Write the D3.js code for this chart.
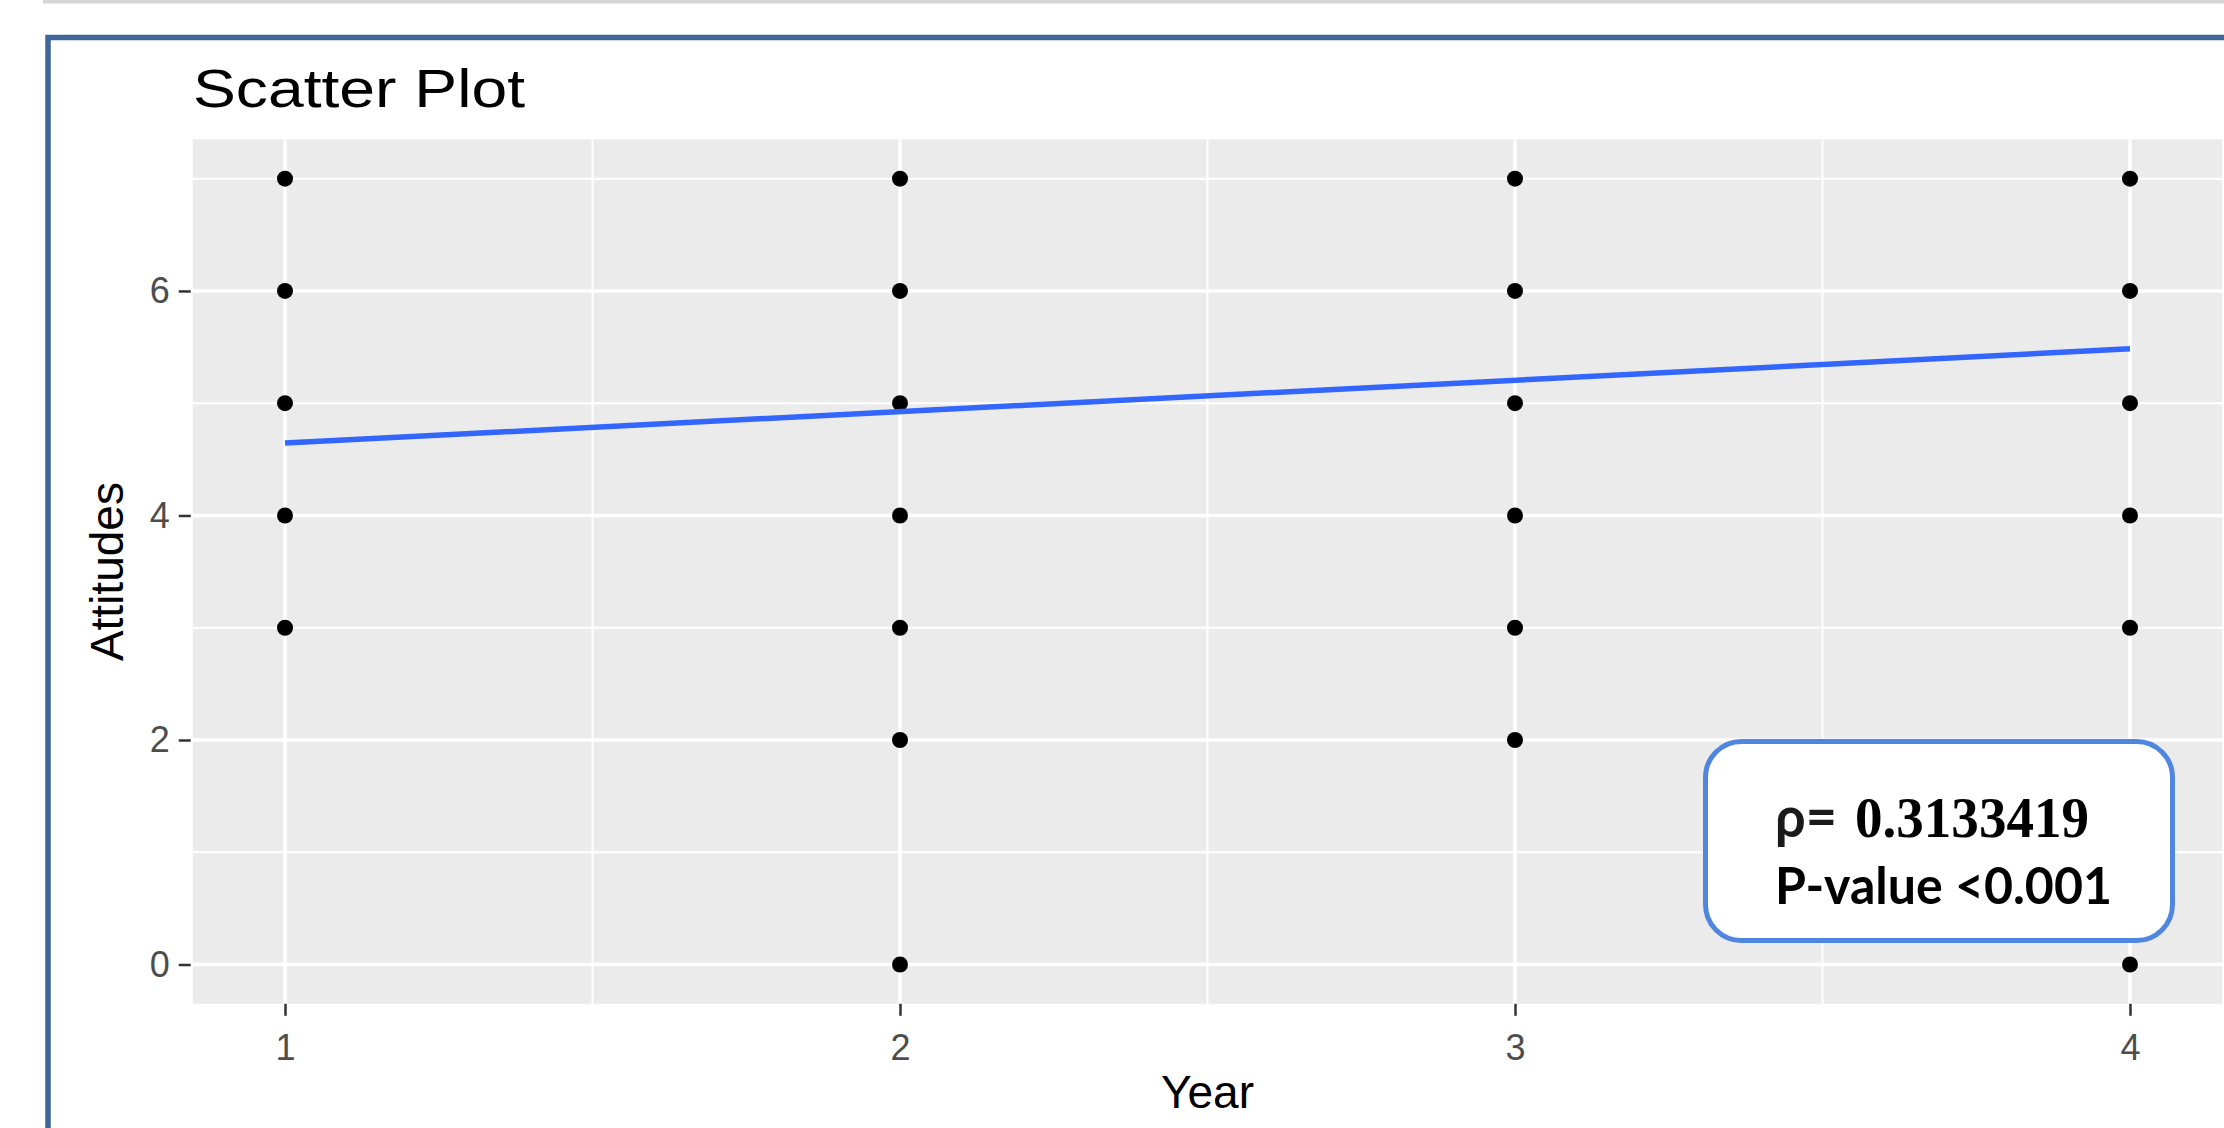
<!DOCTYPE html>
<html>
<head>
<meta charset="utf-8">
<script src="https://cdn.jsdelivr.net/npm/d3@7"></script>
<style>
  html, body { margin: 0; padding: 0; background: #ffffff; }
  svg { display: block; }
</style>
</head>
<body>
<svg id="chart" width="2224" height="1128"></svg>
<script>
// ---- data ----
const years = [1, 2, 3, 4];
const attitudesByYear = [
  [7, 6, 5, 4, 3],
  [7, 6, 5, 4, 3, 2, 0],
  [7, 6, 5, 4, 3, 2],
  [7, 6, 5, 4, 3, 0]
];
const fitYears = [1, 4];
const fitAttitudes = [4.645, 5.485];
const xTicks = [1, 2, 3, 4];
const xMinorTicks = [1.5, 2.5, 3.5];
const yTicks = [0, 2, 4, 6];
const yMinorTicks = [1, 3, 5, 7];
const titleText = "Scatter Plot";
const xTitle = "Year";
const yTitle = "Attitudes";
const rhoLabel = "\u03C1=";
const rhoValue = "0.3133419";
const pLabel = "P-value <0.001";

// ---- layout ----
const svg = d3.select("#chart");
const panel = { left: 192.75, right: 2222.25, top: 139.4, bottom: 1003.8 };

const x = d3.scaleLinear().domain([0.85, 4.15]).range([panel.left, panel.right]);
const y = d3.scaleLinear().domain([-0.35, 7.35]).range([panel.bottom, panel.top]);

// top grey strip
svg.append("rect").attr("x", 43).attr("y", 0).attr("width", 2224 - 43).attr("height", 3.5)
  .attr("fill", "#d6d6d6");

// blue frame
svg.append("rect").attr("x", 48).attr("y", 37.5).attr("width", 2400).attr("height", 1300)
  .attr("fill", "none").attr("stroke", "#41669a").attr("stroke-width", 5.5);

// panel background
svg.append("rect").attr("x", panel.left).attr("y", panel.top)
  .attr("width", panel.right - panel.left).attr("height", panel.bottom - panel.top)
  .attr("fill", "#ebebeb");

const grid = svg.append("g");
// minor grid
grid.selectAll("line.ymin").data(yMinorTicks).join("line")
  .attr("x1", panel.left).attr("x2", panel.right)
  .attr("y1", d => y(d)).attr("y2", d => y(d))
  .attr("stroke", "#ffffff").attr("stroke-width", 2);
grid.selectAll("line.xmin").data(xMinorTicks).join("line")
  .attr("y1", panel.top).attr("y2", panel.bottom)
  .attr("x1", d => x(d)).attr("x2", d => x(d))
  .attr("stroke", "#ffffff").attr("stroke-width", 2);
// major grid
grid.append("g").selectAll("line").data(yTicks).join("line")
  .attr("x1", panel.left).attr("x2", panel.right)
  .attr("y1", d => y(d)).attr("y2", d => y(d))
  .attr("stroke", "#ffffff").attr("stroke-width", 3.5);
grid.append("g").selectAll("line").data(xTicks).join("line")
  .attr("y1", panel.top).attr("y2", panel.bottom)
  .attr("x1", d => x(d)).attr("x2", d => x(d))
  .attr("stroke", "#ffffff").attr("stroke-width", 3.5);

// points
const points = [];
years.forEach((yr, i) => attitudesByYear[i].forEach(v => points.push({ year: yr, att: v })));
svg.append("g").selectAll("circle").data(points).join("circle")
  .attr("cx", d => x(d.year)).attr("cy", d => y(d.att)).attr("r", 8)
  .attr("fill", "#000000");

// regression line
const fit = fitYears.map((v, i) => [v, fitAttitudes[i]]);
svg.append("path").datum(fit)
  .attr("d", d3.line().x(d => x(d[0])).y(d => y(d[1])))
  .attr("fill", "none").attr("stroke", "#3366ff").attr("stroke-width", 5.5);

// axes
const xAxis = svg.append("g").attr("transform", `translate(0,${panel.bottom})`)
  .call(d3.axisBottom(x).tickValues(xTicks).tickFormat(d3.format("d")).tickSize(12).tickPadding(8));
const yAxis = svg.append("g").attr("transform", `translate(${panel.left - 2},0)`)
  .call(d3.axisLeft(y).tickValues(yTicks).tickFormat(d3.format("d")).tickSize(12).tickPadding(9));
[xAxis, yAxis].forEach(a => {
  a.select(".domain").remove();
  a.selectAll(".tick line").attr("stroke", "#333333").attr("stroke-width", 2.5);
  a.selectAll(".tick text").attr("fill", "#4d4d4d")
    .style("font-family", "'Liberation Sans', Arial, sans-serif").style("font-size", "36px");
});
xAxis.selectAll(".tick text").attr("dy", null).attr("y", 0)
  .attr("transform", "translate(0,56)");

// titles
svg.append("text").attr("x", 193).attr("y", 107).text(titleText)
  .attr("textLength", 332).attr("lengthAdjust", "spacingAndGlyphs")
  .style("font-family", "'Liberation Sans', Arial, sans-serif").style("font-size", "54px")
  .attr("fill", "#000000");
svg.append("text").attr("x", (panel.left + panel.right) / 2).attr("y", 1108)
  .attr("text-anchor", "middle").text(xTitle)
  .style("font-family", "'Liberation Sans', Arial, sans-serif").style("font-size", "46px")
  .attr("fill", "#000000");
svg.append("text").attr("transform", `translate(123,${(panel.top + panel.bottom) / 2}) rotate(-90)`)
  .attr("text-anchor", "middle").text(yTitle)
  .style("font-family", "'Liberation Sans', Arial, sans-serif").style("font-size", "46px")
  .attr("fill", "#000000");

// annotation box
svg.append("rect").attr("x", 1705.5).attr("y", 741.5).attr("width", 467).attr("height", 199)
  .attr("rx", 36).attr("ry", 36)
  .attr("fill", "#ffffff").attr("stroke", "#4f86e0").attr("stroke-width", 5);
svg.append("text").attr("x", 1775).attr("y", 837).text(rhoLabel)
  .attr("textLength", 62).attr("lengthAdjust", "spacingAndGlyphs")
  .style("font-family", "Lato, 'Open Sans', sans-serif").style("font-weight", "bold")
  .style("font-size", "58px").attr("fill", "#1a1a1a");
svg.append("text").attr("x", 1855).attr("y", 837).text(rhoValue)
  .attr("textLength", 234).attr("lengthAdjust", "spacingAndGlyphs")
  .style("font-family", "'Liberation Serif', 'Times New Roman', serif").style("font-weight", "bold")
  .style("font-size", "58px").attr("fill", "#000000");
svg.append("text").attr("x", 1775).attr("y", 904).text(pLabel)
  .attr("textLength", 337).attr("lengthAdjust", "spacingAndGlyphs")
  .style("font-family", "Lato, 'Open Sans', sans-serif").style("font-weight", "bold")
  .style("font-size", "51px").attr("fill", "#000000");
</script>
</body>
</html>
